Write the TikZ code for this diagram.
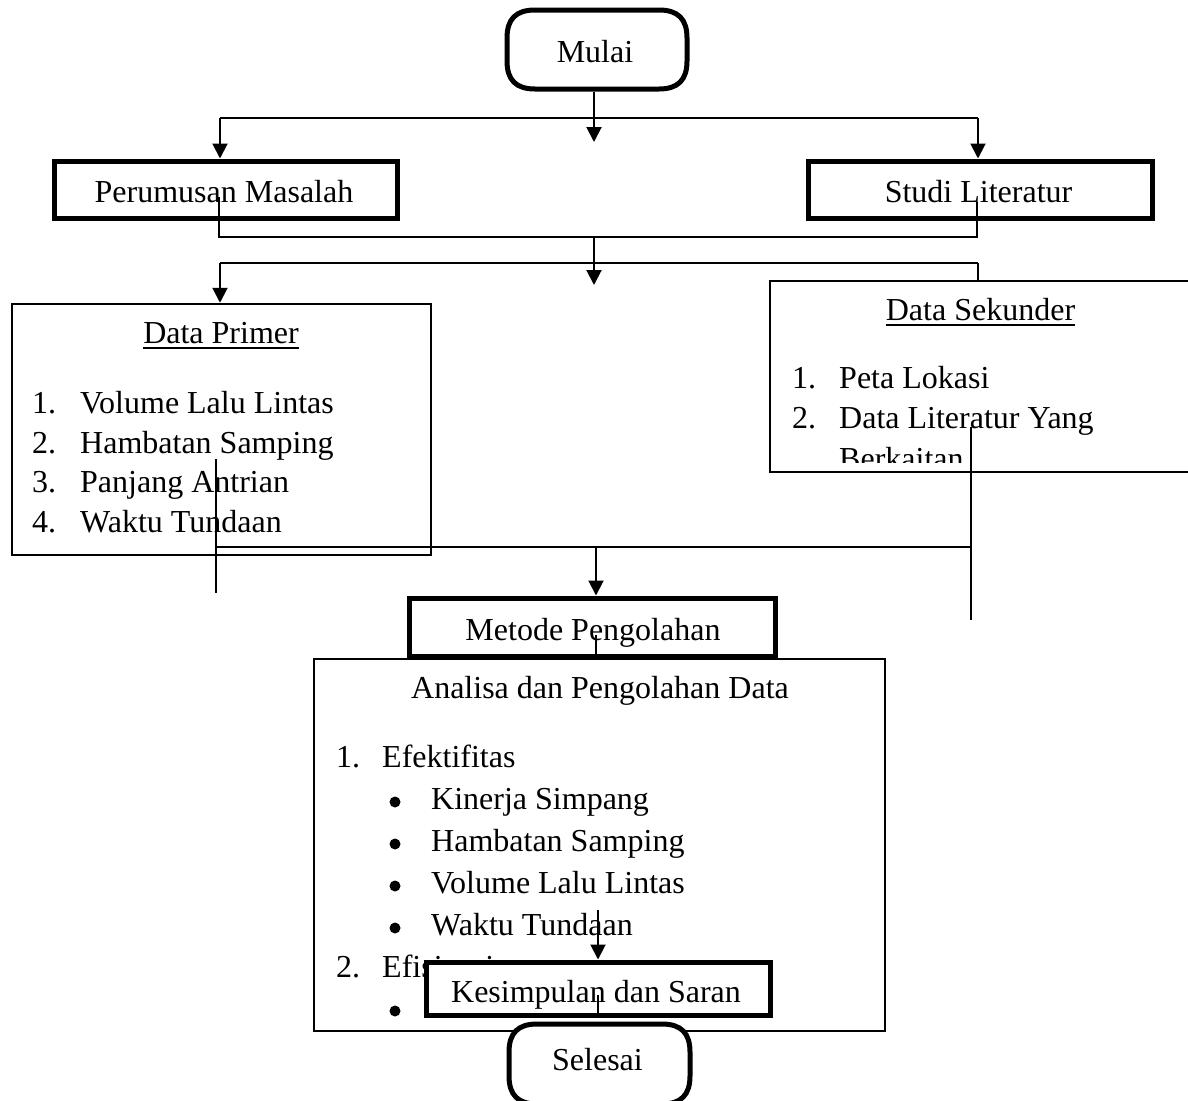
\documentclass[tikz,border=0pt]{standalone}
\usepackage{fontspec}
\setmainfont{Liberation Serif}
\usetikzlibrary{arrows.meta}
\tikzset{
  txt/.style={inner sep=0pt, font=\fontsize{32}{40}\selectfont},
  term/.style={draw=none, inner sep=0pt, outer sep=2.5pt},
  termline/.style={draw, line width=5pt, fill=white},
  thickbox/.style={draw, line width=5pt, inner sep=0pt},
  thinbox/.style={draw, line width=2.5pt, inner sep=0pt},
  conn/.style={line width=2pt},
  arr/.style={line width=2pt, -{Triangle[width=15pt,length=15pt]}},
  bul/.style={circle, fill, inner sep=0pt, minimum size=11pt},
  uline/.style={line width=2pt},
}
\begin{document}
\begin{tikzpicture}[x=1pt,y=-1pt]
\clip (0,0) rectangle (1188,1100);
\fill[white] (0,0) rectangle (1188,1100);

% ---- start
\draw[termline] (535,10) -- (659,10) .. controls (678,10) and (687,19) .. (687,38)
  -- (687,61) .. controls (687,80) and (678,89) .. (659,89)
  -- (535,89) .. controls (516,89) and (507,80) .. (507,61)
  -- (507,38) .. controls (507,19) and (516,10) .. (535,10) -- cycle;
\node[term, minimum width=180pt, minimum height=79pt] (mulai) at (597,49.5) {};
\node[txt, anchor=base] (tmulai) at (595,62) {Mulai};

% ---- first row
\node[thickbox, minimum width=343pt, minimum height=57pt] (perumusan) at (225.5,189.5) {};
\node[txt, anchor=base] (tperumusan) at (224,202) {Perumusan Masalah};
\node[thickbox, minimum width=344pt, minimum height=57pt] (studi) at (980,189.5) {};
\node[txt, anchor=base] (tstudi) at (978.5,202) {Studi Literatur};

% ---- data primer
\node[thinbox, minimum width=419pt, minimum height=251pt] (primer) at (221.5,429.5) {};
\node[txt, anchor=base] (tprimer) at (221,343) {Data Primer};
\draw[uline] ([yshift=-5pt]tprimer.base west) -- ([yshift=-5pt]tprimer.base east);
\node[txt, anchor=base west] (pn1) at (32,413) {1.};
\node[txt, anchor=base west] (pi1) at (80,413) {Volume Lalu Lintas};
\node[txt, anchor=base west] (pn2) at (32,453) {2.};
\node[txt, anchor=base west] (pi2) at (80,453) {Hambatan Samping};
\node[txt, anchor=base west] (pn3) at (32,492) {3.};
\node[txt, anchor=base west] (pi3) at (80,492) {Panjang Antrian};
\node[txt, anchor=base west] (pn4) at (32,532) {4.};
\node[txt, anchor=base west] (pi4) at (80,532) {Waktu Tundaan};

% ---- data sekunder
\node[thinbox, minimum width=421pt, minimum height=191pt] (sekunder) at (980.5,376.5) {};
\begin{scope}
\clip (770,281) rectangle (1191,462);
\node[txt, anchor=base] (tsekunder) at (980.5,320) {Data Sekunder};
\draw[uline] ([yshift=-5pt]tsekunder.base west) -- ([yshift=-5pt]tsekunder.base east);
\node[txt, anchor=base west] (sn1) at (792,388) {1.};
\node[txt, anchor=base west] (si1) at (839,388) {Peta Lokasi};
\node[txt, anchor=base west] (sn2) at (792,428) {2.};
\node[txt, anchor=base west] (si2) at (839,428) {Data Literatur Yang};
\node[txt, anchor=base west] (si3) at (839,469) {Berkaitan};
\end{scope}

% ---- metode
\node[thickbox, minimum width=366pt, minimum height=58pt] (metode) at (592,627) {};
\node[txt, anchor=base] (tmetode) at (593,640) {Metode Pengolahan};

% ---- analisa
\node[thinbox, minimum width=571pt, minimum height=372pt] (analisa) at (599.5,845) {};
\node[txt, anchor=base] (tanalisa) at (600,698) {Analisa dan Pengolahan Data};
\node[txt, anchor=base west] (an1) at (336,767) {1.};
\node[txt, anchor=base west] (ai1) at (382,767) {Efektifitas};
\node[bul] (b1) at (395,802) {};
\node[txt, anchor=base west] (ab1) at (431,809) {Kinerja Simpang};
\node[bul] (b2) at (395,844) {};
\node[txt, anchor=base west] (ab2) at (431,851) {Hambatan Samping};
\node[bul] (b3) at (395,886) {};
\node[txt, anchor=base west] (ab3) at (431,893) {Volume Lalu Lintas};
\node[bul] (b4) at (395,928) {};
\node[txt, anchor=base west] (ab4) at (431,935) {Waktu Tundaan};
\node[txt, anchor=base west] (an2) at (336,977) {2.};
\node[txt, anchor=base west] (ai2) at (382,977) {Efisiensi};
\node[bul] (b5) at (395,1011) {};

% ---- kesimpulan
\node[thickbox, fill=white, minimum width=344pt, minimum height=53pt] (kesimpulan) at (598,988.5) {};
\node[txt, anchor=base] (tkesimpulan) at (596,1002) {Kesimpulan dan Saran};

% ---- end
\draw[termline] (537,1024) -- (662,1024) .. controls (681,1024) and (690,1033) .. (690,1052)
  -- (690,1076) .. controls (690,1095) and (681,1104) .. (662,1104)
  -- (537,1104) .. controls (518,1104) and (509,1095) .. (509,1076)
  -- (509,1052) .. controls (509,1033) and (518,1024) .. (537,1024) -- cycle;
\node[term, minimum width=181pt, minimum height=80pt] (selesai) at (599.5,1064) {};
\node[txt, anchor=base] (tselesai) at (597.5,1070) {Selesai};

% ---- connectors
\coordinate (m1) at (594,142);
\draw[arr] (m1 |- mulai.south) -- (m1);
\coordinate (t1) at (220,118);
\coordinate (t2) at (978,118);
\draw[conn] (t1) -- (t2);
\draw[arr] (t1) -- (t1 |- perumusan.north);
\draw[arr] (t2) -- (t2 |- studi.north);

\coordinate (pin) at (219,197);
\coordinate (pj) at (219,237);
\coordinate (sj) at (977,237);
\coordinate (sin) at (977,202);
\draw[conn] (pin) -- (pj) -- (sj) -- (sin);
\coordinate (m2) at (594,237);
\coordinate (m2e) at (594,285);
\draw[arr] (m2) -- (m2e);

\coordinate (u1) at (220,263);
\coordinate (u2) at (978,263);
\draw[conn] (u1) -- (u2);
\draw[arr] (u1) -- (u1 |- primer.north);
\draw[conn] (u2) -- (u2 |- sekunder.north);

\coordinate (pa) at (216,459);
\coordinate (pb) at (216,593);
\coordinate (pc) at (216,546.5);
\coordinate (sa) at (971,427);
\coordinate (sb) at (971,620);
\coordinate (sc) at (971,546.5);
\draw[conn] (pa) -- (pb);
\draw[conn] (sa) -- (sb);
\draw[conn] (pc) -- (sc);
\coordinate (mc) at (596,546.5);
\draw[arr] (mc) -- (mc |- metode.north);

\coordinate (min) at (596,635);
\draw[conn] (min) -- (min |- analisa.north);

\coordinate (ka) at (598,910);
\draw[arr] (ka) -- (ka |- kesimpulan.north);
\coordinate (kin) at (598,995);
\draw[conn] (kin) -- (kin |- kesimpulan.south);
\end{tikzpicture}
\end{document}
